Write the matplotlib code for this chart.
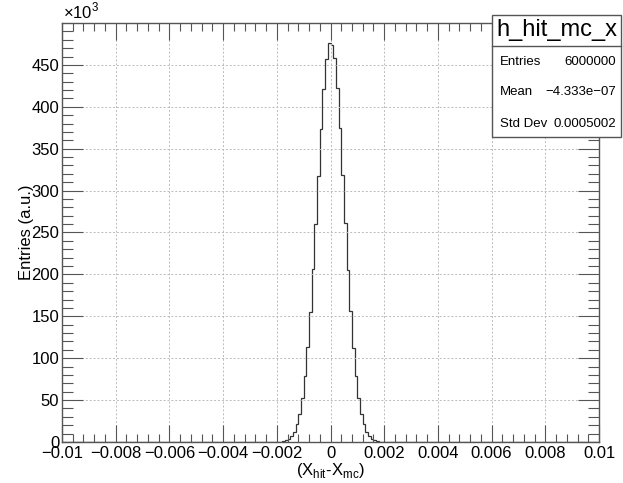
import numpy as np
import matplotlib.pyplot as plt
from matplotlib.patches import Rectangle
from matplotlib.lines import Line2D

plt.rcParams['font.family'] = ['Liberation Sans', 'DejaVu Sans']

# histogram h_hit_mc_x: 200 bins from -0.01 to 0.01, only the centre is filled
x_min = -0.01
x_max = 0.01
n_bins = 200
# bin contents (entries) from -0.002 to 0.002
counts_center = [
    300, 500, 1100, 2000, 3900, 7200, 12400, 21000, 34000, 53000,
    79000, 113000, 155000, 206000, 260000, 318000, 373000, 421000, 457000, 476000,
    474000, 458000, 422000, 375000, 319000, 261000, 205000, 156000, 112000, 79000,
    53000, 34000, 21000, 12500, 7100, 3900, 2100, 1000, 500, 250,
]
stat_names = ["Entries", "Mean", "Std Dev"]
stat_values = ["6000000", "\u22124.333e\u221207", "0.0005002"]
hist_name = "h_hit_mc_x"

x_ticks = [-0.01, -0.008, -0.006, -0.004, -0.002, 0, 0.002, 0.004, 0.006, 0.008, 0.01]
x_ticklabels = ["\u22120.01", "\u22120.008", "\u22120.006", "\u22120.004", "\u22120.002", "0",
                "0.002", "0.004", "0.006", "0.008", "0.01"]
y_ticks = [0, 50, 100, 150, 200, 250, 300, 350, 400, 450]

edges = np.linspace(x_min, x_max, n_bins + 1)
pad = (n_bins - len(counts_center)) // 2
counts = np.concatenate([np.zeros(pad), counts_center, np.zeros(pad)])

fig = plt.figure(figsize=(6.23, 4.83), dpi=100)
ax = fig.add_axes([0.0995, 0.0849, 0.862, 0.8675])

ax.stairs(counts / 1000.0, edges, color="#333333", lw=0.9)

ax.set_xlim(x_min, x_max)
ax.set_ylim(0, 500)
ax.set_xticks(x_ticks)
ax.set_xticklabels(x_ticklabels)
ax.set_xticks(np.arange(-0.01, 0.01001, 0.0004), minor=True)
ax.set_yticks(y_ticks)
ax.set_yticks(np.arange(0, 500, 10), minor=True)

ax.tick_params(which="both", direction="in", top=True, right=True, labelsize=12, width=0.8, color="#555555")
ax.tick_params(axis="x", which="major", length=12, pad=3)
ax.tick_params(axis="x", which="minor", length=6)
ax.tick_params(axis="y", which="major", length=15, pad=2)
ax.tick_params(axis="y", which="minor", length=8)
for s in ax.spines.values():
    s.set_color("#555555")
    s.set_linewidth(1.0)

ax.grid(True, which="major", linestyle=(0, (2, 2)), color="#bbbbbb", lw=0.7)

ax.set_ylabel("Entries (a.u.)", fontsize=12, labelpad=-2)
ax.set_xlabel("(X$_\\mathregular{hit}$-X$_\\mathregular{mc}$)", fontsize=12, labelpad=0)

fig.text(0.101, 0.955, "\u00d710$^\\mathregular{3}$", fontsize=12, ha="left", va="bottom")

# stats box
bx, by, bw, bh = 0.790, 0.716, 0.207, 0.2526
fig.patches.append(Rectangle((bx, by), bw, bh, transform=fig.transFigure,
                             facecolor="white", edgecolor="#555555", lw=1.0, zorder=5))
fig.lines.append(Line2D([bx, bx + bw], [0.905, 0.905], transform=fig.transFigure,
                        color="#555555", lw=1.0, zorder=6))
fig.text(bx + bw / 2, 0.937, hist_name, fontsize=17, ha="center", va="center", zorder=7)
row_y = [0.871, 0.809, 0.743]
for name, val, yy in zip(stat_names, stat_values, row_y):
    fig.text(bx + 0.012, yy, name, fontsize=9.5, ha="left", va="center", zorder=7)
    fig.text(bx + bw - 0.008, yy, val, fontsize=9.5, ha="right", va="center", zorder=7)

fig.savefig("out.png", dpi=100)
